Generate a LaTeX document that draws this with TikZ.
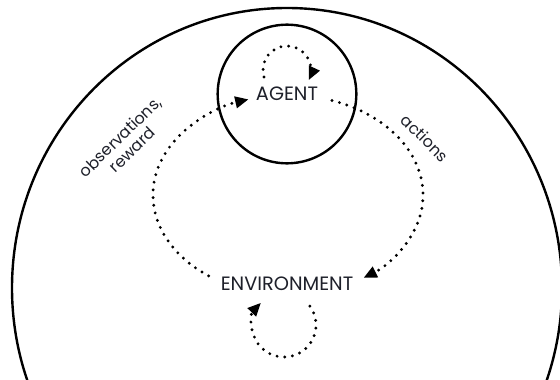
\documentclass[tikz,border=0pt]{standalone}
\usepackage{fontspec}
\setmainfont{Poppins}
\usepackage{tikz}
\usetikzlibrary{arrows.meta,calc}
\definecolor{inkGray}{RGB}{30,32,42}
\tikzset{
  ring/.style={draw,line width=1.8pt},
  dotloop/.style={line width=2.4pt,line cap=round,dash pattern=on 0pt off 5.8pt,
                  -{Triangle[length=10pt,width=8.5pt]}},
  tag/.style={font=\fontsize{14.5}{16}\selectfont,text=inkGray,inner sep=2pt},
  lbl/.style={font=\fontsize{12}{13}\selectfont,text=inkGray,align=center,inner sep=1pt},
}

\begin{document}
\begin{tikzpicture}[x=0.75pt,y=0.75pt]
    \useasboundingbox[fill=white] (0,0) rectangle (560,379);
    \clip (0,0) rectangle (560,379);
    % outer world
    \draw[ring] (287,91) ellipse[x radius=275,y radius=280];
    % agent and environment
    \node[ring,circle,minimum size=104pt,tag] (agent) at (287,285) {AGENT};
    \node[tag] (env) at (287,95) {ENVIRONMENT};
    \coordinate (loop) at (288,184);
    % main interaction loop
    \draw[dotloop] ($(loop)+(71:135 and 100)$) arc[start angle=71,end angle=-56,x radius=135,y radius=100];
    \draw[dotloop] ($(loop)+(234:135 and 100)$) arc[start angle=234,end angle=107,x radius=135,y radius=100];
    % self loops
    \draw[dotloop] ($(agent.center)+(0,24)+(197:24)$) arc[start angle=197,end angle=-25,radius=24];
    \draw[dotloop] ($(env.center)+(-3,-41)+(36:32)$) arc[start angle=36,end angle=-224,radius=32];
    % labels
    \node[lbl,rotate=44] (obs) at (126,236) {observations,\\reward};
    \node[lbl,rotate=-45] (act) at (425,241) {actions};
\end{tikzpicture}
\end{document}
